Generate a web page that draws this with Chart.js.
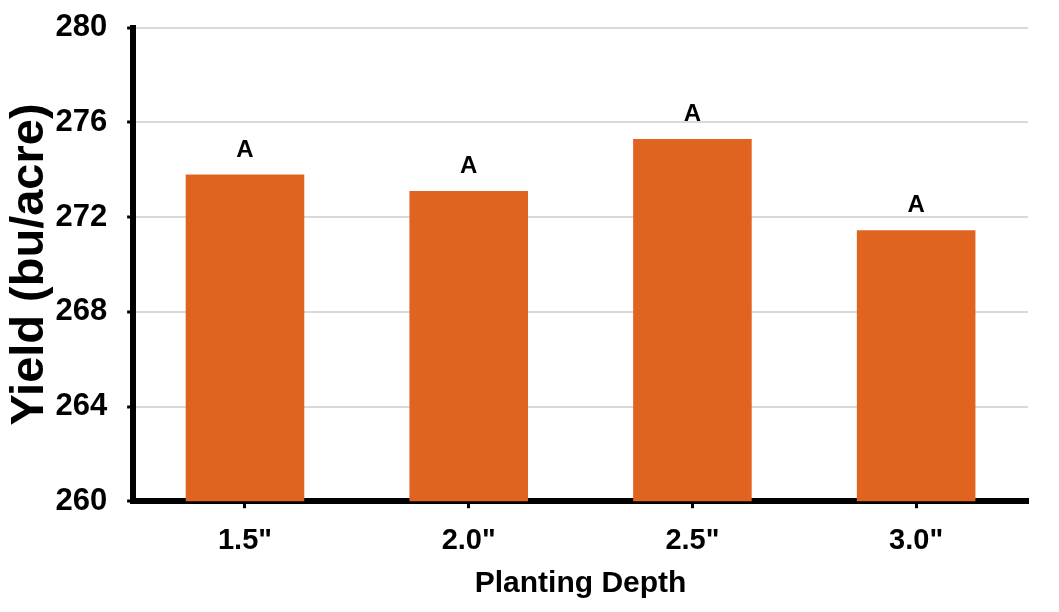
<!DOCTYPE html>
<html>
<head>
<meta charset="utf-8">
<script src="https://cdn.jsdelivr.net/npm/chart.js@4/dist/chart.umd.min.js"></script>
<style>
html,body{margin:0;padding:0;background:#fff;}
#wrap{width:1059px;height:612px;position:relative;}
</style>
</head>
<body>
<div id="wrap"><canvas id="c" width="1059" height="612"></canvas></div>
<script>
const categories = ['1.5"', '2.0"', '2.5"', '3.0"'];
const yieldValues = [273.8, 273.1, 275.3, 271.45];
const letters = ['A', 'A', 'A', 'A'];
const yTicks = [260, 264, 268, 272, 276, 280];

const FONT = "'Liberation Sans', Arial, Helvetica, sans-serif";

const letterPlugin = {
  id: 'letters',
  afterDatasetsDraw(chart) {
    const ctx = chart.ctx;
    const meta = chart.getDatasetMeta(0);
    ctx.save();
    ctx.font = 'bold 24px ' + FONT;
    ctx.fillStyle = '#000';
    ctx.textAlign = 'center';
    ctx.textBaseline = 'alphabetic';
    meta.data.forEach((bar, i) => {
      ctx.fillText(letters[i], bar.x, bar.y - 18);
    });
    ctx.restore();
  }
};

new Chart(document.getElementById('c'), {
  type: 'bar',
  data: {
    labels: categories,
    datasets: [{
      data: yieldValues,
      backgroundColor: '#E06420',
      borderWidth: 0,
      barPercentage: 0.53,
      categoryPercentage: 1.0
    }]
  },
  options: {
    responsive: false,
    animation: false,
    devicePixelRatio: 1,
    layout: { padding: { left: 0, right: 31, top: 27, bottom: 0 } },
    plugins: { legend: { display: false }, tooltip: { enabled: false } },
    scales: {
      x: {
        grid: { display: true, drawOnChartArea: false, offset: false, tickLength: 7, tickWidth: 3, tickColor: '#000' },
        border: { display: true, color: '#000', width: 6 },
        ticks: { color: '#000', font: { family: FONT, size: 29, weight: 'bold' }, padding: 15 },
        title: { display: true, text: 'Planting Depth', color: '#000', font: { family: FONT, size: 30, weight: 'bold' }, padding: { top: -7, bottom: 10 } }
      },
      y: {
        min: 260, max: 280,
        afterBuildTicks(axis) { axis.ticks = yTicks.map(v => ({ value: v })); },
        grid: { color: '#d9d9d9', lineWidth: 2, tickLength: 6, tickWidth: 3, tickColor: '#000' },
        border: { display: true, color: '#000', width: 6 },
        ticks: { color: '#000', font: { family: FONT, size: 31, weight: 'bold', lineHeight: 0.5 }, padding: 20 },
        title: { display: true, text: 'Yield (bu/acre)', color: '#000', font: { family: FONT, size: 47, weight: 'bold' }, padding: { top: 2, bottom: -23 } }
      }
    }
  },
  plugins: [letterPlugin]
});
</script>
</body>
</html>
